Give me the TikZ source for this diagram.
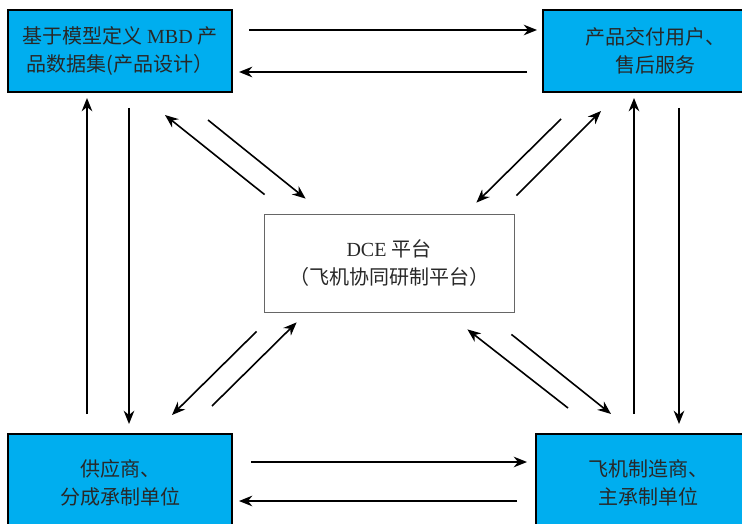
\documentclass[tikz,border=0pt]{standalone}
\usepackage{fontspec}
\setmainfont{Liberation Serif}
\newfontfamily\cjk{Noto Sans CJK SC}
\usetikzlibrary{arrows.meta, calc}
\definecolor{boxblue}{RGB}{0,174,239}
\definecolor{txtgray}{RGB}{40,40,40}
\tikzset{
party/.style={shape=rectangle, draw=black, line width=1.5pt, fill=boxblue, minimum width=168pt, minimum height=61.5pt, inner sep=0, align=center, text=txtgray, font=\fontsize{15}{21}\selectfont}, partylow/.style={party, minimum height=73.5pt}, hub/.style={shape=rectangle, draw=black!60, line width=0.6pt, minimum width=187.5pt, minimum height=73.5pt, inner sep=0, align=center, text=txtgray, font=\fontsize{15}{21}\selectfont}, link/.style={-{Stealth[length=10pt, width=8pt]}, line width=1.2pt}}

\begin{document}
\begin{tikzpicture}[x=0.75pt, y=-0.75pt]
\useasboundingbox (0,0) rectangle (742,524);
\node [party] at (120,51) (mbd) {{\cjk 基于模型定义} MBD {\cjk 产}\\{\cjk 品数据集(产品设计）}};
\node [party] at (655,51) (user) {\cjk 产品交付用户、\\\cjk 售后服务};
\node [partylow] at (120,483) (supplier) {\cjk 供应商、\\\cjk 分成承制单位};
\node [partylow] at (648,483) (maker) {\cjk 飞机制造商、\\\cjk 主承制单位};
\node [hub] at (389,263) (dce) {DCE {\cjk 平台}\\{\cjk （飞机协同研制平台）}};
% top and bottom
\draw [link] ($(mbd.north east)+(16,21)$) -- ($(user.north west)+(-5,21)$);
\draw [link] ($(user.south west)+(-15,-21)$) -- ($(mbd.south east)+(6,-21)$);
\draw [link] ($(supplier.north east)+(18,29)$) -- ($(maker.north west)+(-8,29)$);
\draw [link] ($(maker.north west)+(-18,68)$) -- ($(supplier.north east)+(6,68)$);
% left and right
\draw [link] ($(supplier.north west)+(80,-19)$) -- ($(mbd.south west)+(80,5)$);
\draw [link] ($(mbd.south west)+(122,15)$) -- ($(supplier.north west)+(122,-9)$);
\draw [link] ($(maker.north west)+(99,-19)$) -- ($(user.south west)+(92,5)$);
\draw [link] ($(user.south west)+(137,15)$) -- ($(maker.north west)+(144,-9)$);
% to and from the platform
\draw [link] ($(dce.north west)+(1,-19)$) -- ($(mbd.south east)+(-68,22)$);
\draw [link] ($(mbd.south east)+(-25,27)$) -- ($(dce.north west)+(42,-15)$);
\draw [link] ($(user.south west)+(19,26)$) -- ($(dce.north east)+(-38,-11)$);
\draw [link] ($(dce.north east)+(2,-18)$) -- ($(user.south west)+(59,18)$);
\draw [link] ($(dce.south west)+(-7,19)$) -- ($(supplier.north east)+(-61,-18)$);
\draw [link] ($(supplier.north east)+(-21,-27)$) -- ($(dce.south west)+(33,10)$);
\draw [link] ($(maker.north west)+(33,-25)$) -- ($(dce.south east)+(-47,17)$);
\draw [link] ($(dce.south east)+(-3,22)$) -- ($(maker.north west)+(76,-19)$);
\end{tikzpicture}
\end{document}
